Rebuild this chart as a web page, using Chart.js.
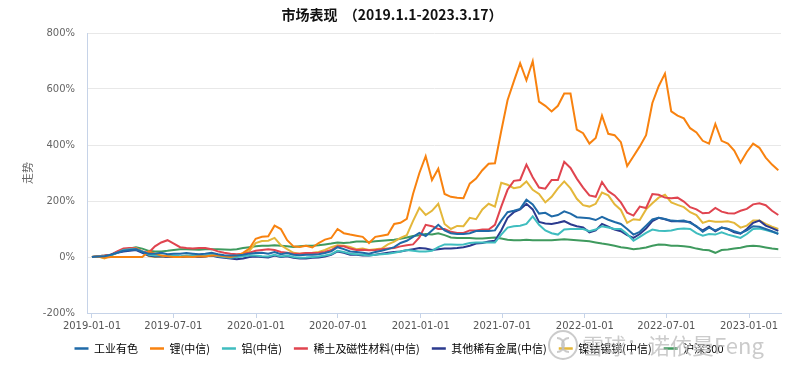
<!DOCTYPE html>
<html>
<head>
<meta charset="utf-8">
<script src="https://cdn.jsdelivr.net/npm/chart.js@4.4.1/dist/chart.umd.min.js"></script>
<style>
  html, body { margin: 0; padding: 0; background: #ffffff; }
  #wrap { width: 800px; height: 367px; position: relative; }
</style>
</head>
<body>
<div id="wrap"><canvas id="market-chart"></canvas></div>
<script>
// 市场表现 2019.1.1-2023.3.17, cumulative % change, one point every 14 days

const startDate = "2019-01-01";
const stepDays = 14;

const tickLabels = [
  "2019-01-01", "2019-07-01", "2020-01-01", "2020-07-01", "2021-01-01",
  "2021-07-01", "2022-01-01", "2022-07-01", "2023-01-01",
];

const seriesNames = [
  "工业有色", "锂(中信)", "铝(中信)", "稀土及磁性材料(中信)",
  "其他稀有金属(中信)", "镍钴锡锑(中信)", "沪深300",
];

const industrial = [
  0, 2, 3, 8, 15, 22, 25, 28, 18, 12, 12, 15, 10, 12, 12, 14, 12, 10, 12, 15, 10, 6, 5, 5, 8, 12,
  14, 15, 12, 18, 10, 14, 8, 6, 8, 8, 10, 14, 20, 35, 28, 20, 18, 15, 12, 18, 22, 28, 35,
  50, 58, 72, 86, 75, 95, 115, 95, 85, 82, 82, 85, 93, 93, 93, 95, 130, 160, 165, 172, 205, 188, 155, 158, 145,
  150, 163, 155, 142, 140, 138, 132, 143, 133, 125, 118, 100, 80, 90, 112, 134, 140, 136, 130, 129, 130, 122,
  110, 90, 105, 95, 105, 100, 92, 85, 95, 110, 108, 100, 92, 82,
];

const lithium = [
  0, 2, -3, 0, 0, 0, 0, 0, 0, 20, 12, 5, 3, 0, 0, 2, 0, 3, 2, 5, 5, 3, 0, 5, 15,
  30, 65, 72, 74, 112, 100, 60, 38, 36, 40, 34, 50, 62, 68, 100, 85, 80, 76, 72, 50, 72, 76, 80, 118,
  122, 136, 226, 300, 360, 275, 315, 225, 215, 212, 210, 262, 280, 310, 333, 335, 450, 560, 627, 692, 631, 699, 555, 540,
  520, 540, 584, 584, 455, 442, 405, 425, 505, 440, 435, 410, 325, 360, 395, 435, 550, 610, 655, 520, 505, 495, 460, 445, 415,
  405, 475, 415, 405, 380, 337, 375, 405, 390, 355, 330, 310,
];

const aluminium = [
  0, 2, 3, 6, 15, 25, 28, 28, 20, 8, 5, 5, 3, 5, 3, 5, 5, 3, 5, 8, 3, 0, -3, 0, 3, 5,
  5, 3, 2, 8, 2, 5, 0, -3, -2, 0, 2, 5, 10, 22, 18, 12, 10, 8, 5, 8, 10, 12, 15, 20, 25, 22, 20,
  20, 22, 35, 45, 45, 44, 45, 50, 52, 52, 52, 52, 80, 105, 110, 112, 118, 145, 115, 95, 85,
  80, 98, 100, 100, 100, 92, 98, 110, 105, 100, 100, 82, 58, 72, 86, 98, 94, 93, 95, 100, 102, 100,
  85, 76, 82, 80, 88, 80, 74, 68, 82, 100, 102, 96, 90, 85,
];

const rareEarth = [
  0, 3, 5, 8, 20, 30, 32, 30, 20, 15, 38, 52, 60, 48, 35, 32, 30, 32, 32, 28, 20, 15, 12, 10, 12, 15,
  22, 25, 28, 25, 18, 15, 12, 12, 14, 14, 15, 18, 25, 38, 38, 30, 25, 26, 24, 25, 28, 30, 32, 38, 42,
  45, 70, 115, 110, 100, 100, 90, 86, 86, 95, 95, 98, 98, 115, 180, 240, 272, 275, 330, 285, 248, 244, 275,
  275, 340, 318, 280, 248, 220, 215, 268, 235, 220, 195, 158, 148, 180, 175, 225, 222, 212, 210, 212, 198, 178,
  170, 156, 158, 175, 162, 156, 155, 165, 172, 188, 192, 185, 165, 150,
];

const otherRare = [
  0, 2, 3, 8, 15, 20, 22, 25, 15, 5, 2, 3, 0, 2, 0, 2, 3, 0, 2, 5, 0, -3, -5, -8, -5, 0,
  2, 0, -2, 5, 0, 3, -3, -5, -5, -3, -2, 2, 8, 20, 15, 8, 8, 5, 5, 8, 12, 15, 18,
  20, 24, 28, 32, 30, 25, 28, 30, 30, 32, 35, 40, 48, 50, 55, 58, 95, 140, 160, 170, 190, 170, 125, 120, 118,
  122, 128, 117, 110, 106, 88, 95, 118, 108, 98, 92, 78, 68, 82, 102, 128, 140, 135, 128, 128, 127, 125,
  108, 95, 108, 92, 105, 100, 88, 83, 100, 122, 130, 112, 103, 93,
];

const nickelCobalt = [
  0, 2, -5, 5, 15, 25, 30, 32, 20, 3, 0, 2, 0, 3, 0, 2, 5, 0, 3, 5, 8, 3, 0, 0, 10,
  22, 50, 57, 58, 68, 42, 28, 15, 12, 14, 15, 18, 25, 35, 42, 40, 36, 28, 30, 25, 28, 30, 45, 55, 68, 78,
  129, 176, 150, 165, 190, 118, 100, 111, 110, 140, 135, 170, 190, 180, 265, 258, 246, 250, 270, 240, 225, 195, 215,
  245, 270, 245, 208, 185, 180, 190, 230, 220, 188, 168, 122, 135, 132, 170, 192, 212, 222, 195, 186, 178, 160, 150,
  122, 129, 126, 126, 128, 122, 105, 112, 130, 130, 118, 108, 100,
];

const hs300 = [
  0, 3, 5, 8, 18, 25, 30, 35, 30, 22, 20, 20, 22, 25, 28, 28, 27, 26, 28, 28, 28, 27, 26, 28, 32, 35,
  38, 40, 40, 42, 40, 38, 36, 38, 40, 40, 42, 45, 48, 52, 50, 52, 55, 55, 54, 56, 58, 60, 62, 65, 70, 75, 78, 82, 80, 85,
  78, 70, 68, 68, 68, 66, 66, 68, 70, 66, 62, 60, 60, 62, 60, 60, 60, 60, 62, 63, 62, 60, 58, 56, 52, 48, 45,
  40, 35, 32, 28, 30, 34, 40, 45, 44, 40, 40, 38, 36, 30, 26, 24, 15, 25, 27, 30, 33, 38, 40, 38, 34, 30, 28,
];

const seriesColors = ["#1f6aa8", "#f8820f", "#3fbdbf", "#e0444f", "#2b3a8e", "#e4b73a", "#3f9a5e"];

function dayOffset(dateStr) {
  const [y, m, d] = dateStr.split("-").map(Number);
  const [y0, m0, d0] = startDate.split("-").map(Number);
  return Math.round((Date.UTC(y, m - 1, d) - Date.UTC(y0, m0 - 1, d0)) / 86400000);
}

const tickDays = tickLabels.map(dayOffset);

function toPoints(values) {
  return values.map((v, i) => ({ x: i * stepDays, y: v }));
}

const allSeries = [industrial, lithium, aluminium, rareEarth, otherRare, nickelCobalt, hs300];

const datasets = allSeries.map((values, i) => ({
  label: seriesNames[i],
  data: toPoints(values),
  borderColor: seriesColors[i],
  backgroundColor: seriesColors[i],
  borderWidth: 2,
  pointRadius: 0,
  tension: 0,
  fill: false,
}));

const titlePlugin = {
  id: "topTitle",
  afterDraw(chart) {
    const ctx = chart.ctx;
    ctx.save();
    ctx.fillStyle = "#111111";
    ctx.font = "bold 14px 'Noto Sans CJK SC', sans-serif";
    ctx.textAlign = "center";
    ctx.textBaseline = "middle";
    ctx.fillText("市场表现  （2019.1.1-2023.3.17）", 392, 15);
    ctx.restore();
  },
};

const watermarkPlugin = {
  id: "watermark",
  afterDraw(chart) {
    const ctx = chart.ctx;
    ctx.save();
    ctx.strokeStyle = "rgba(190, 190, 190, 0.8)";
    ctx.lineWidth = 2;
    ctx.beginPath();
    ctx.arc(563, 345, 14, 0, Math.PI * 2);
    ctx.stroke();
    ctx.beginPath();
    ctx.arc(557, 345, 7, -Math.PI / 2, Math.PI / 2);
    ctx.stroke();
    ctx.beginPath();
    ctx.arc(569, 345, 7, Math.PI / 2, Math.PI * 1.5);
    ctx.stroke();
    ctx.fillStyle = "rgba(185, 185, 185, 0.75)";
    ctx.font = "22px 'Noto Sans CJK SC', sans-serif";
    ctx.textBaseline = "middle";
    ctx.fillText("雪球：诺依曼Feng", 582, 346);
    ctx.restore();
  },
};

const axisBlue = "#c6d3e8";

new Chart(document.getElementById("market-chart").getContext("2d"), {
  type: "line",
  data: { datasets },
  plugins: [titlePlugin, watermarkPlugin],
  options: {
    responsive: true,
    maintainAspectRatio: false,
    animation: false,
    layout: { padding: { left: 17, right: 19, top: 33, bottom: 3 } },
    plugins: {
      title: { display: false },
      tooltip: { enabled: false },
      legend: {
        position: "bottom",
        labels: {
          usePointStyle: true,
          pointStyle: "line",
          pointStyleWidth: 14,
          padding: 12,
          color: "#111111",
          font: { size: 11, family: "'Noto Sans CJK SC', sans-serif" },
          generateLabels: (chart) =>
            chart.data.datasets.map((ds, i) => ({
              text: ds.label,
              strokeStyle: ds.borderColor,
              fillStyle: ds.borderColor,
              lineWidth: 2.5,
              pointStyle: "line",
              datasetIndex: i,
              hidden: false,
            })),
        },
      },
    },
    scales: {
      x: {
        type: "linear",
        min: -11,
        max: 1532,
        afterBuildTicks: (scale) => {
          scale.ticks = tickDays.map((d) => ({ value: d }));
        },
        afterFit: (scale) => {
          scale.height = 18;
        },
        ticks: {
          autoSkip: false,
          maxRotation: 0,
          padding: 2,
          color: "#555555",
          font: { size: 10, family: "'DejaVu Sans', sans-serif" },
          callback: (value) => tickLabels[tickDays.indexOf(value)] || "",
        },
        grid: {
          display: true,
          drawOnChartArea: false,
          drawTicks: true,
          tickLength: 5,
          color: axisBlue,
        },
        border: { color: axisBlue, width: 1 },
      },
      y: {
        min: -200,
        max: 800,
        afterFit: (scale) => {
          scale.width = 70;
        },
        ticks: {
          stepSize: 200,
          padding: 12,
          color: "#666666",
          font: { size: 10, family: "'DejaVu Sans', sans-serif" },
          callback: (value) => value + "%",
        },
        grid: {
          color: "#e8e8e8",
          drawTicks: false,
        },
        border: { color: axisBlue, width: 1 },
        title: {
          display: true,
          text: "走势",
          color: "#666666",
          font: { size: 11, family: "'Noto Sans CJK SC', sans-serif" },
        },
      },
    },
  },
});
</script>
</body>
</html>
